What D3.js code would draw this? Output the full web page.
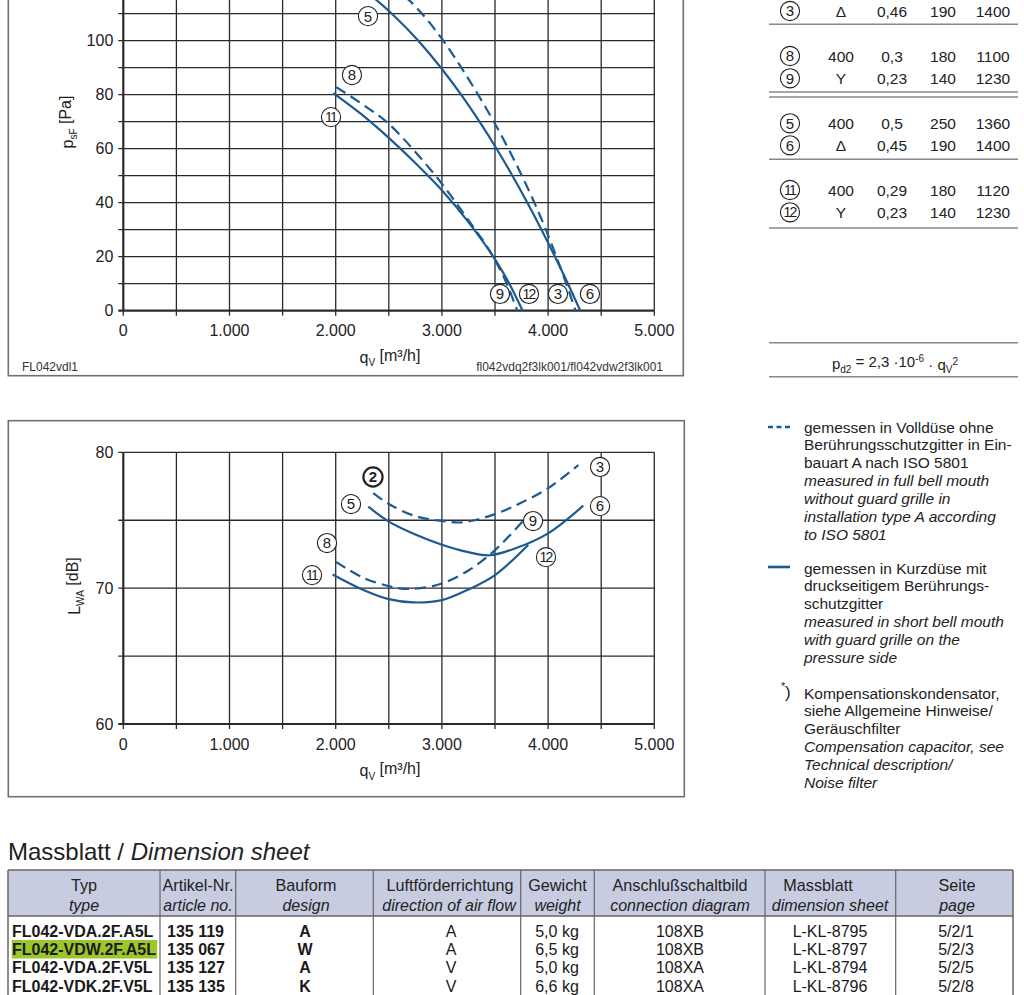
<!DOCTYPE html>
<html><head><meta charset="utf-8">
<script src="https://cdn.jsdelivr.net/npm/d3@7"></script>
<style>
html,body{margin:0;padding:0;background:#fff;}
svg{display:block;font-family:"Liberation Sans",Arial,sans-serif;}
</style></head>
<body>
<svg id="c" width="1024" height="995"></svg>
<script>
// ---------- DATA ----------
const qTicks = [0, 1000, 2000, 3000, 4000, 5000];
const qTickLabels = ["0", "1.000", "2.000", "3.000", "4.000", "5.000"];
const pTicks = [0, 20, 40, 60, 80, 100];
const lwaTicks = [60, 70, 80];

// pressure curves  [qV m3/h, psF Pa]
const p_2_3 = [[2523,120],[2690,115],[2813,110],[3013,100],[3183,90],[3341,80],[3489,70],[3626,60],[3753,50],[3871,40],[3979,30],[4078,20],[4171,10],[4258,0]];
const p_5_6 = [[2219,120],[2385,115],[2529,110],[2778,100],[2991,90],[3181,80],[3354,70],[3515,60],[3664,50],[3805,40],[3938,30],[4065,20],[4187,10],[4303,0]];
const p_8_9 = [[2005,82.8],[2250,76.5],[2500,69.2],[2750,58.8],[3000,47],[3250,33.5],[3490,19.5],[3600,11],[3710,0]];
const p_11_12 = [[1977,80.6],[2250,72.5],[2500,64],[2750,54.7],[3000,44.6],[3250,32.8],[3500,19],[3635,10],[3760,0]];

// sound power curves [qV m3/h, LWA dB]
const l_2_3 = [[2354,77.0],[2500,76.2],[2750,75.3],[3000,74.95],[3200,74.85],[3500,75.45],[3750,76.3],[4000,77.35],[4285,79.06]];
const l_5_6 = [[2307,76.0],[2500,74.9],[2750,73.95],[3000,73.2],[3250,72.65],[3450,72.42],[3700,72.95],[4000,74.03],[4331,76.07]];
const l_8_9 = [[2003,71.94],[2250,70.8],[2500,70.15],[2650,69.95],[2800,70.0],[3000,70.34],[3250,71.3],[3500,72.8],[3783,75.1]];
const l_11_12 = [[1971,71.0],[2250,69.9],[2500,69.19],[2730,68.95],[3000,69.12],[3250,69.9],[3500,70.96],[3814,73.2]];

// operating point labels [id, qV, value]
const pLabels = [["5",2304,109.1],["8",2153,87.3],["11",1956,71.7],["9",3547,6.2],["12",3820,6.2],["3",4093,6.2],["6",4394,6.2]];
const lLabels = [["2",2351,78.18],["5",2144,76.19],["8",1918,73.32],["11",1777,70.96],["9",3858,74.94],["12",3980,72.28],["3",4489,78.92],["6",4489,76.04]];

// motor data table (top right)
const motorRows = [
  {id:"3", v:"Δ", i:"0,46", p:"190", n:"1400"},
  {id:"8", v:"400", i:"0,3", p:"180", n:"1100"},
  {id:"9", v:"Y", i:"0,23", p:"140", n:"1230"},
  {id:"5", v:"400", i:"0,5", p:"250", n:"1360"},
  {id:"6", v:"Δ", i:"0,45", p:"190", n:"1400"},
  {id:"11", v:"400", i:"0,29", p:"180", n:"1120"},
  {id:"12", v:"Y", i:"0,23", p:"140", n:"1230"}
];

// legend text
const legendDashed = [["gemessen in Volldüse ohne",0],["Berührungsschutzgitter in Ein-",0],["bauart A nach ISO 5801",0],["measured in full bell mouth",1],["without guard grille in",1],["installation type A according",1],["to ISO 5801",1]];
const legendSolid = [["gemessen in Kurzdüse mit",0],["druckseitigem Berührungs-",0],["schutzgitter",0],["measured in short bell mouth",1],["with guard grille on the",1],["pressure side",1]];
const legendNote = [["Kompensationskondensator,",0],["siehe Allgemeine Hinweise/",0],["Geräuschfilter",0],["Compensation capacitor, see",1],["Technical description/",1],["Noise filter",1]];

// dimension table
const dimHeaders = [["Typ","type"],["Artikel-Nr.","article no."],["Bauform","design"],["Luftförderrichtung","direction of air flow"],["Gewicht","weight"],["Anschlußschaltbild","connection diagram"],["Massblatt","dimension sheet"],["Seite","page"]];
const dimTypes = ["FL042-VDA.2F.A5L","FL042-VDW.2F.A5L","FL042-VDA.2F.V5L","FL042-VDK.2F.V5L"];
const dimArticles = ["135 119","135 067","135 127","135 135"];
const dimDesign = ["A","W","A","K"];
const dimFlow = ["A","A","V","V"];
const dimWeight = ["5,0 kg","6,5 kg","5,0 kg","6,6 kg"];
const dimConn = ["108XB","108XB","108XA","108XA"];
const dimSheet = ["L-KL-8795","L-KL-8797","L-KL-8794","L-KL-8796"];
const dimPage = ["5/2/1","5/2/3","5/2/5","5/2/8"];

// ---------- DRAW ----------
const svg = d3.select("#c");
const BLUE = "#1c5a92", GRID = "#2a2a2a", FRAME = "#707070";

const x = d3.scaleLinear().domain([0,5000]).range([123.3,654.3]);
const yP = d3.scaleLinear().domain([0,100]).range([310.7,40.7]);
const yL = d3.scaleLinear().domain([60,80]).range([724,452.3]);

function label(g, parts, attrs){
  const t = g.append("text");
  Object.entries(attrs).forEach(([k,v])=>t.attr(k,v));
  parts.forEach(p=>{
    const s = t.append("tspan").text(p.t);
    if(p.dy) s.attr("dy",p.dy);
    if(p.fs) s.attr("font-size",p.fs);
    if(p.it) s.attr("font-style","italic");
  });
  return t;
}

function circ(g, id, cx, cy, bold){
  g.append("circle").attr("cx",cx).attr("cy",cy).attr("r",9.6)
    .attr("fill","#fff").attr("stroke","#222").attr("stroke-width",bold?2.2:1.1);
  g.append("text").attr("x",cx + (id.length>1?-0.5:0)).attr("y",cy).attr("dy","0.36em")
    .attr("text-anchor","middle").attr("font-size", id.length>1?14:15)
    .attr("font-weight",bold?"bold":"normal").attr("letter-spacing", id.length>1?-1.8:0)
    .attr("fill","#222").text(id);
}

function chart(y, yTop, gridStep, yMaxGrid, yMinGrid, ticks){
  const g = svg.append("g");
  d3.range(0,5001,500).forEach(q=>{
    g.append("line").attr("x1",x(q)).attr("x2",x(q)).attr("y1",y(yMinGrid)).attr("y2",yTop)
      .attr("stroke",GRID).attr("stroke-width",q===0?2.2:1.3);
    g.append("line").attr("x1",x(q)).attr("x2",x(q)).attr("y1",y(yMinGrid)).attr("y2",y(yMinGrid)+5)
      .attr("stroke",GRID).attr("stroke-width",1.3);
  });
  d3.range(yMinGrid, yMaxGrid+0.001, gridStep).forEach(v=>{
    g.append("line").attr("x1",x(0)-5).attr("x2",x(5000)).attr("y1",y(v)).attr("y2",y(v))
      .attr("stroke",GRID).attr("stroke-width",v===yMinGrid?2.2:1.3);
  });
  qTicks.forEach((q,i)=>{
    g.append("text").attr("x",x(q)).attr("y",y(yMinGrid)+20).attr("dy","0.35em")
      .attr("text-anchor","middle").attr("font-size",16).attr("fill","#222").text(qTickLabels[i]);
  });
  ticks.forEach(v=>{
    g.append("text").attr("x",x(0)-10).attr("y",y(v)).attr("dy","0.35em")
      .attr("text-anchor","end").attr("font-size",16).attr("fill","#222").text(v);
  });
  label(g,[{t:"q"},{t:"V",fs:10,dy:"0.35em"},{t:" [m³/h]",dy:"-0.35em"}],
    {x:390,y:y(yMinGrid)+52,"text-anchor":"middle","font-size":16,fill:"#222"});
  return g;
}

// ---- top chart ----
chart(yP, -20, 10, 140, 0, pTicks);
svg.append("rect").attr("x",8.3).attr("y",-20).attr("width",675).attr("height",395.7)
  .attr("fill","none").attr("stroke",FRAME).attr("stroke-width",1.6);
label(svg,[{t:"p"},{t:"sF",fs:10,dy:"0.35em"},{t:" [Pa]",dy:"-0.35em"}],
  {transform:"translate(73,122) rotate(-90)","text-anchor":"middle","font-size":16,fill:"#222"});
svg.append("text").attr("x",22).attr("y",371).attr("font-size",12).attr("fill","#333").text("FL042vdl1");
svg.append("text").attr("x",663).attr("y",371).attr("text-anchor","end").attr("font-size",12).attr("fill","#333").text("fl042vdq2f3lk001/fl042vdw2f3lk001");

const lineP = d3.line().x(d=>x(d[0])).y(d=>yP(d[1])).curve(d3.curveMonotoneX);
[[p_2_3,true],[p_5_6,false],[p_8_9,true],[p_11_12,false]].forEach(([d,dash])=>{
  svg.append("path").attr("d",lineP(d)).attr("fill","none").attr("stroke",BLUE)
    .attr("stroke-width",2.2).attr("stroke-dasharray",dash?"11,6":null);
});
pLabels.forEach(([id,q,v])=>circ(svg,id,x(q),yP(v),false));

// ---- bottom chart ----
chart(yL, yL(80), 5, 80, 60, lwaTicks);
svg.append("rect").attr("x",8.3).attr("y",420.7).attr("width",676).attr("height",376)
  .attr("fill","none").attr("stroke",FRAME).attr("stroke-width",1.6);
label(svg,[{t:"L"},{t:"WA",fs:10,dy:"0.35em"},{t:" [dB]",dy:"-0.35em"}],
  {transform:"translate(80,586) rotate(-90)","text-anchor":"middle","font-size":16,fill:"#222"});
const lineL = d3.line().x(d=>x(d[0])).y(d=>yL(d[1])).curve(d3.curveCatmullRom.alpha(0.5));
[[l_2_3,true],[l_5_6,false],[l_8_9,true],[l_11_12,false]].forEach(([d,dash])=>{
  svg.append("path").attr("d",lineL(d)).attr("fill","none").attr("stroke",BLUE)
    .attr("stroke-width",2.2).attr("stroke-dasharray",dash?"11,6":null);
});
lLabels.forEach(([id,q,v])=>circ(svg,id,x(q),yL(v),id==="2"));

// ---- motor table ----
const mt = svg.append("g").attr("font-size",15.5).attr("fill","#222");
const rowY = [11, 56, 78.3, 123.3, 145.3, 190, 212.3];
motorRows.forEach((r,i)=>{
  const yy = rowY[i];
  circ(mt, r.id, 790, yy, false);
  [[r.v,841],[r.i,892],[r.p,943],[r.n,993]].forEach(([t,cx])=>{
    mt.append("text").attr("x",cx).attr("y",yy).attr("dy","0.36em").attr("text-anchor","middle").text(t);
  });
});
[24.3, 92, 97, 159.3, 228, 342.7, 376.7].forEach(yy=>{
  svg.append("line").attr("x1",769).attr("x2",1018).attr("y1",yy).attr("y2",yy)
    .attr("stroke","#888").attr("stroke-width",1.6);
});
label(svg,[{t:"p"},{t:"d2",fs:10,dy:"0.35em"},{t:" = 2,3 ·10",dy:"-0.35em"},{t:"-6",fs:10,dy:"-0.5em"},{t:" · q",dy:"0.5em"},{t:"V",fs:10,dy:"0.35em"},{t:"2",fs:10,dy:"-0.85em"}],
  {x:895,y:369,"text-anchor":"middle","font-size":15,fill:"#222"});

// ---- legend ----
const lg = svg.append("g").attr("font-size",15.5).attr("fill","#222");
lg.append("line").attr("x1",768).attr("x2",791).attr("y1",427).attr("y2",427)
  .attr("stroke",BLUE).attr("stroke-width",2.4).attr("stroke-dasharray","5,3.5");
lg.append("line").attr("x1",768).attr("x2",790).attr("y1",567).attr("y2",567)
  .attr("stroke",BLUE).attr("stroke-width",2.6);
function para(lines, y0){
  lines.forEach(([t,it],i)=>{
    lg.append("text").attr("x",804).attr("y",y0+i*17.9).attr("dy","0.36em")
      .attr("font-style",it?"italic":"normal").text(t);
  });
}
para(legendDashed, 427);
para(legendSolid, 568);
para(legendNote, 693);
lg.append("text").attr("x",781).attr("y",690).attr("font-size",11).text("*");
lg.append("text").attr("x",785).attr("y",698).attr("font-size",17).text(")");

// ---- dimension sheet ----
label(svg,[{t:"Massblatt / "},{t:"Dimension sheet",it:1}],{x:8,y:860,"font-size":24,fill:"#222"});
const colX = [8,160,235.7,373.3,520.7,594.3,765,895.7,1013];
const tb = svg.append("g");
tb.append("rect").attr("x",colX[0]).attr("y",870).attr("width",colX[8]-colX[0]).attr("height",46)
  .attr("fill","#c8cce1");
tb.append("line").attr("x1",colX[0]).attr("x2",colX[8]).attr("y1",870).attr("y2",870).attr("stroke","#666").attr("stroke-width",1.5);
tb.append("line").attr("x1",colX[0]).attr("x2",colX[8]).attr("y1",916).attr("y2",916).attr("stroke","#666").attr("stroke-width",1.3);
colX.forEach((cx,i)=>{
  tb.append("line").attr("x1",cx).attr("x2",cx).attr("y1",870).attr("y2",1000)
    .attr("stroke","#666").attr("stroke-width",(i===0||i===8)?1.5:1.2);
});
const hdrCx1 = [84,198,306,450,557.5,680,818,957];
const hdrCx2 = [84,198,306,449,557.5,680,830,957];
dimHeaders.forEach(([a,b],i)=>{
  tb.append("text").attr("x",hdrCx1[i]).attr("y",885).attr("dy","0.36em").attr("text-anchor","middle")
    .attr("font-size",16.2).attr("fill","#222").text(a);
  tb.append("text").attr("x",hdrCx2[i]).attr("y",905).attr("dy","0.36em").attr("text-anchor","middle")
    .attr("font-size",16).attr("font-style","italic").attr("fill","#222").text(b);
});
const dRowY = [931, 949, 967.5, 986];
tb.append("rect").attr("x",11.7).attr("y",dRowY[1]-9).attr("width",145.5).attr("height",18.5).attr("fill","#9cc62b");
const cols = [
  [dimTypes,12,"start",true],[dimArticles,167,"start",true],[dimDesign,305,"middle",true],
  [dimFlow,451,"middle",false],[dimWeight,557,"middle",false],[dimConn,680,"middle",false],
  [dimSheet,830,"middle",false],[dimPage,956,"middle",false]
];
cols.forEach(([arr,cx,anchor,bold])=>{
  arr.forEach((t,i)=>{
    tb.append("text").attr("x",cx).attr("y",dRowY[i]).attr("dy","0.36em").attr("text-anchor",anchor)
      .attr("font-size",16).attr("font-weight",bold?"bold":"normal").attr("fill","#1a1a1a").text(t);
  });
});
</script>
</body></html>
